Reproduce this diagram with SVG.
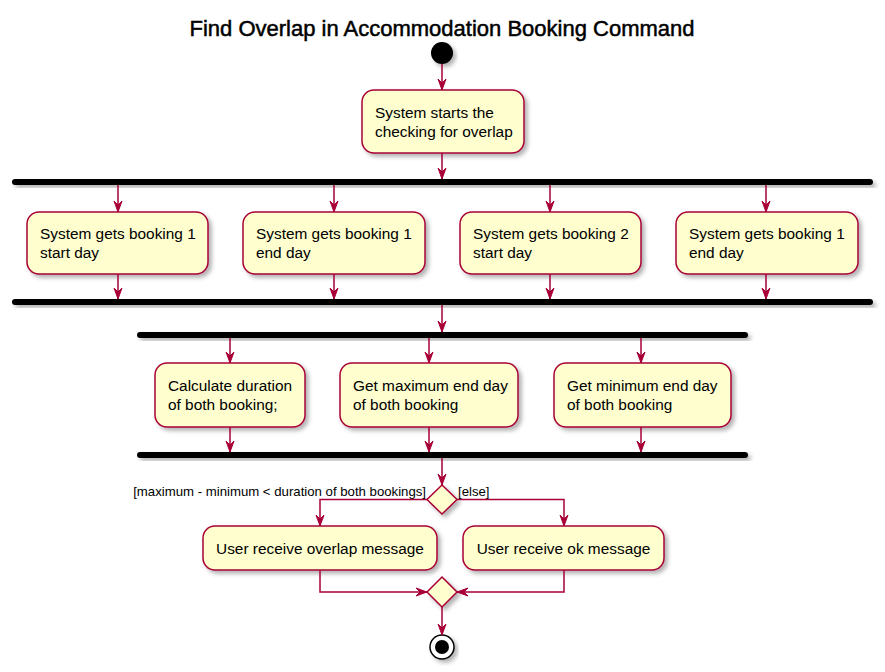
<svg xmlns="http://www.w3.org/2000/svg" width="885" height="672" viewBox="0 0 885 672">
<style>
.box{fill:#FEFECE;stroke:#A80036;stroke-width:1.5;filter:url(#sh)}
.bar{fill:#000;filter:url(#sh)}
.t{font-family:"Liberation Sans",Arial,sans-serif;font-size:15.4px;fill:#000}
.g{font-family:"Liberation Sans",Arial,sans-serif;font-size:13.2px;fill:#000}
.ln{fill:none;stroke:#A80036;stroke-width:1.5}
</style>
<defs>
<filter id="sh" x="-20%" y="-50%" width="140%" height="200%">
<feDropShadow dx="3" dy="3" stdDeviation="2" flood-color="#000" flood-opacity="0.3"/>
</filter>
<marker id="arr" viewBox="0 0 12 10" refX="11" refY="5" markerWidth="12" markerHeight="10" markerUnits="userSpaceOnUse" orient="auto">
<path d="M0,1 L11,5 L0,9 L4,5 Z" fill="#A80036" stroke="#A80036" stroke-width="1"/>
</marker>
</defs>
<rect width="885" height="672" fill="#fff"/>
<text x="442" y="36" text-anchor="middle" font-family="'Liberation Sans',Arial,sans-serif" font-size="22" stroke="#000" stroke-width="0.5">Find Overlap in Accommodation Booking Command</text>

<g id="start"><circle cx="442" cy="53" r="11" fill="#000" filter="url(#sh)"/></g>

<g id="a1"><rect class="box" x="362" y="90" width="162" height="63" rx="12"/>
<text class="t" x="375" y="118">System starts the</text><text class="t" x="375" y="137">checking for overlap</text></g>

<g id="fork1"><rect class="bar" x="12" y="179" width="861" height="6" rx="3"/></g>

<g id="b1"><rect class="box" x="27" y="212" width="181" height="62" rx="12"/>
<text class="t" x="40" y="239">System gets booking 1</text><text class="t" x="40" y="258">start day</text></g>
<g id="b2"><rect class="box" x="243" y="212" width="182" height="62" rx="12"/>
<text class="t" x="256" y="239">System gets booking 1</text><text class="t" x="256" y="258">end day</text></g>
<g id="b3"><rect class="box" x="460" y="212" width="181" height="62" rx="12"/>
<text class="t" x="473" y="239">System gets booking 2</text><text class="t" x="473" y="258">start day</text></g>
<g id="b4"><rect class="box" x="676" y="212" width="182" height="62" rx="12"/>
<text class="t" x="689" y="239">System gets booking 1</text><text class="t" x="689" y="258">end day</text></g>

<g id="join1"><rect class="bar" x="12" y="299" width="861" height="6" rx="3"/></g>
<g id="fork2"><rect class="bar" x="137" y="332" width="611" height="6" rx="3"/></g>

<g id="c1"><rect class="box" x="155" y="363" width="150" height="64" rx="12"/>
<text class="t" x="168" y="391">Calculate duration</text><text class="t" x="168" y="410">of both booking;</text></g>
<g id="c2"><rect class="box" x="340" y="363" width="178" height="64" rx="12"/>
<text class="t" x="353" y="391">Get maximum end day</text><text class="t" x="353" y="410">of both booking</text></g>
<g id="c3"><rect class="box" x="554" y="363" width="177" height="64" rx="12"/>
<text class="t" x="567" y="391">Get minimum end day</text><text class="t" x="567" y="410">of both booking</text></g>

<g id="join2"><rect class="bar" x="137" y="452" width="611" height="6" rx="3"/></g>

<g id="dec"><polygon class="box" points="442,485 457,499.5 442,514 427,499.5"/></g>
<g id="d1"><rect class="box" x="203" y="526" width="234" height="44" rx="12"/>
<text class="t" x="320" y="554" text-anchor="middle">User receive overlap message</text></g>
<g id="d2"><rect class="box" x="463" y="526" width="201" height="44" rx="12"/>
<text class="t" x="563.5" y="554" text-anchor="middle">User receive ok message</text></g>
<g id="merge"><polygon class="box" points="442,577 457,592 442,607 427,592"/></g>

<g id="end"><circle cx="442" cy="647" r="12" fill="#fff" stroke="#000" stroke-width="1.5" filter="url(#sh)"/><circle cx="442" cy="647" r="7" fill="#000"/></g>

<g id="connectors">
<path class="ln" marker-end="url(#arr)" d="M442,64 V90"/>
<path class="ln" marker-end="url(#arr)" d="M442,153 V179"/>
<path class="ln" marker-end="url(#arr)" d="M118,185 V212"/>
<path class="ln" marker-end="url(#arr)" d="M334,185 V212"/>
<path class="ln" marker-end="url(#arr)" d="M550,185 V212"/>
<path class="ln" marker-end="url(#arr)" d="M766,185 V212"/>
<path class="ln" marker-end="url(#arr)" d="M118,274 V299"/>
<path class="ln" marker-end="url(#arr)" d="M334,274 V299"/>
<path class="ln" marker-end="url(#arr)" d="M550,274 V299"/>
<path class="ln" marker-end="url(#arr)" d="M766,274 V299"/>
<path class="ln" marker-end="url(#arr)" d="M442,305 V332"/>
<path class="ln" marker-end="url(#arr)" d="M230,338 V363"/>
<path class="ln" marker-end="url(#arr)" d="M429,338 V363"/>
<path class="ln" marker-end="url(#arr)" d="M641,338 V363"/>
<path class="ln" marker-end="url(#arr)" d="M230,427 V452"/>
<path class="ln" marker-end="url(#arr)" d="M429,427 V452"/>
<path class="ln" marker-end="url(#arr)" d="M641,427 V452"/>
<path class="ln" marker-end="url(#arr)" d="M442,458 V485"/>
<path class="ln" marker-end="url(#arr)" d="M427,499.5 H320 V526"/>
<path class="ln" marker-end="url(#arr)" d="M457,499.5 H564 V526"/>
<path class="ln" marker-end="url(#arr)" d="M320,570 V592 H427"/>
<path class="ln" marker-end="url(#arr)" d="M564,570 V592 H457"/>
<path class="ln" marker-end="url(#arr)" d="M442,607 V635"/>
<text class="g" x="426" y="496" text-anchor="end">[maximum - minimum &lt; duration of both bookings]</text>
<text class="g" x="458" y="496">[else]</text>
</g>
</svg>
